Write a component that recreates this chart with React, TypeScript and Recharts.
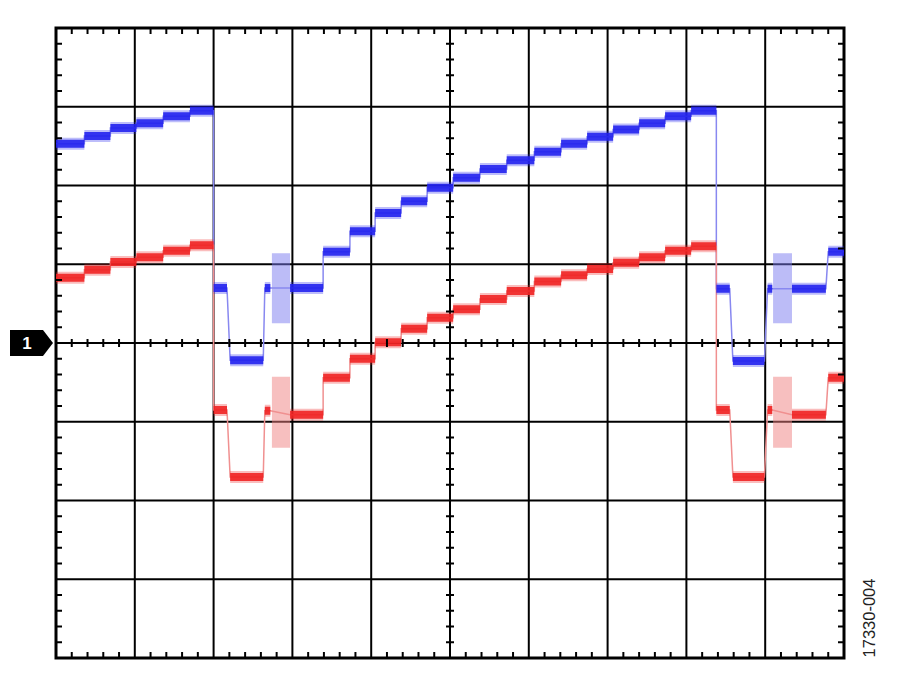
import {
  ComposedChart,
  Line,
  Scatter,
  XAxis,
  YAxis,
  CartesianGrid,
  ReferenceArea,
  ReferenceDot,
} from "recharts";

// scope screen: x in divisions (0..10), y in divisions (-4..4), 0 = channel 1 ground
// each step: [xStart, xEnd, level]
const blueSteps: [number, number, number][] = [
  [0.0, 0.36, 2.53],
  [0.36, 0.69, 2.63],
  [0.69, 1.02, 2.73],
  [1.02, 1.36, 2.79],
  [1.36, 1.7, 2.88],
  [1.7, 2.0, 2.95],
  [2.0, 2.17, 0.7],
  [2.21, 2.63, -0.22],
  [2.65, 2.72, 0.7],
  [2.97, 3.39, 0.7],
  [3.39, 3.73, 1.16],
  [3.73, 4.05, 1.42],
  [4.05, 4.38, 1.65],
  [4.38, 4.71, 1.8],
  [4.71, 5.04, 1.97],
  [5.04, 5.38, 2.1],
  [5.38, 5.72, 2.21],
  [5.72, 6.07, 2.32],
  [6.07, 6.41, 2.43],
  [6.41, 6.74, 2.53],
  [6.74, 7.07, 2.62],
  [7.07, 7.4, 2.71],
  [7.4, 7.73, 2.79],
  [7.73, 8.06, 2.88],
  [8.06, 8.38, 2.95],
  [8.38, 8.55, 0.69],
  [8.59, 8.99, -0.23],
  [9.03, 9.09, 0.69],
  [9.34, 9.77, 0.69],
  [9.8, 10.0, 1.16],
];

const redSteps: [number, number, number][] = [
  [0.0, 0.36, 0.83],
  [0.36, 0.69, 0.93],
  [0.69, 1.02, 1.03],
  [1.02, 1.36, 1.09],
  [1.36, 1.7, 1.17],
  [1.7, 2.0, 1.24],
  [2.0, 2.17, -0.85],
  [2.21, 2.63, -1.7],
  [2.65, 2.72, -0.86],
  [2.97, 3.39, -0.91],
  [3.39, 3.73, -0.44],
  [3.73, 4.05, -0.2],
  [4.05, 4.38, 0.01],
  [4.38, 4.71, 0.18],
  [4.71, 5.04, 0.32],
  [5.04, 5.38, 0.43],
  [5.38, 5.72, 0.56],
  [5.72, 6.07, 0.66],
  [6.07, 6.41, 0.78],
  [6.41, 6.74, 0.86],
  [6.74, 7.07, 0.94],
  [7.07, 7.4, 1.02],
  [7.4, 7.73, 1.09],
  [7.73, 8.06, 1.17],
  [8.06, 8.38, 1.23],
  [8.38, 8.55, -0.85],
  [8.59, 8.99, -1.7],
  [9.03, 9.09, -0.85],
  [9.34, 9.77, -0.91],
  [9.8, 10.0, -0.44],
];

// noisy bursts: [xStart, xEnd, yLow, yHigh]
const blueBursts: [number, number, number, number][] = [
  [2.74, 2.97, 0.25, 1.14],
  [9.1, 9.34, 0.25, 1.14],
];
const redBursts: [number, number, number, number][] = [
  [2.74, 2.97, -1.33, -0.43],
  [9.1, 9.34, -1.33, -0.43],
];

const xMajorTicks = [0, 1, 2, 3, 4, 5, 6, 7, 8, 9, 10];
const yMajorTicks = [-4, -3, -2, -1, 0, 1, 2, 3, 4];
const xMinorTicks = [
  0.2, 0.4, 0.6, 0.8, 1.2, 1.4, 1.6, 1.8, 2.2, 2.4, 2.6, 2.8, 3.2, 3.4, 3.6, 3.8,
  4.2, 4.4, 4.6, 4.8, 5.2, 5.4, 5.6, 5.8, 6.2, 6.4, 6.6, 6.8, 7.2, 7.4, 7.6, 7.8,
  8.2, 8.4, 8.6, 8.8, 9.2, 9.4, 9.6, 9.8,
];
const yMinorTicks = [
  -3.8, -3.6, -3.4, -3.2, -2.8, -2.6, -2.4, -2.2, -1.8, -1.6, -1.4, -1.2, -0.8, -0.6,
  -0.4, -0.2, 0.2, 0.4, 0.6, 0.8, 1.2, 1.4, 1.6, 1.8, 2.2, 2.4, 2.6, 2.8, 3.2, 3.4,
  3.6, 3.8,
];

const BLUE = "#2424ee";
const RED = "#f02424";

// thick horizontal pieces, broken apart with nulls
const toSegments = (steps: [number, number, number][]) =>
  steps.flatMap(([x0, x1, y]) => [
    { x: x0, y },
    { x: x1, y },
    { x: x1, y: null },
  ]);
// the faint connecting trace
const toPath = (steps: [number, number, number][]) =>
  steps.flatMap(([x0, x1, y]) => [
    { x: x0, y },
    { x: x1, y },
  ]);

// minor tick marks on the centre cross and along the four edges
const centerHTicks = xMinorTicks.map((x) => ({ x, y: 0 }));
const centerVTicks = yMinorTicks.map((y) => ({ x: 5, y }));
const topTicks = xMinorTicks.map((x) => ({ x, y: 4 }));
const bottomTicks = xMinorTicks.map((x) => ({ x, y: -4 }));
const leftTicks = yMinorTicks.map((y) => ({ x: 0, y }));
const rightTicks = yMinorTicks.map((y) => ({ x: 10, y }));

const mark = (x1: number, y1: number, x2: number, y2: number) => (
  <line x1={x1} y1={y1} x2={x2} y2={y2} stroke="#000" strokeWidth={2} />
);
const VTick = (p: any) => mark(p.cx, p.cy - 4, p.cx, p.cy + 4);
const HTick = (p: any) => mark(p.cx - 4, p.cy, p.cx + 4, p.cy);
const DownTick = (p: any) => mark(p.cx, p.cy, p.cx, p.cy + 6);
const UpTick = (p: any) => mark(p.cx, p.cy, p.cx, p.cy - 6);
const RightTick = (p: any) => mark(p.cx, p.cy, p.cx + 6, p.cy);
const LeftTick = (p: any) => mark(p.cx, p.cy, p.cx - 6, p.cy);
const NoLabel = () => <g />;

const GroundMarker = (p: any) => {
  const { cx, cy } = p;
  return (
    <g>
      <path
        d={`M${cx - 46},${cy - 13} L${cx - 13},${cy - 13} L${cx - 3},${cy} L${cx - 13},${cy + 13} L${cx - 46},${cy + 13} Z`}
        fill="#000"
      />
      <text
        x={cx - 29}
        y={cy + 6}
        textAnchor="middle"
        fill="#fff"
        fontSize={17}
        fontWeight="bold"
        fontFamily="Liberation Sans, Arial, sans-serif"
      >
        1
      </text>
    </g>
  );
};

export default function App() {
  const tickSets: [any[], any][] = [
    [centerHTicks, VTick],
    [centerVTicks, HTick],
    [topTicks, DownTick],
    [bottomTicks, UpTick],
    [leftTicks, RightTick],
    [rightTicks, LeftTick],
  ];

  return (
    <div style={{ position: "absolute", top: 0, left: 0, width: 900, height: 680, background: "#fff" }}>
      <ComposedChart width={900} height={680} margin={{ top: 28, right: 56, bottom: 22, left: 56 }}>
        <XAxis
          xAxisId="g"
          dataKey="x"
          type="number"
          domain={[0, 10]}
          ticks={xMajorTicks}
          interval={0}
          allowDataOverflow
          height={0}
          axisLine={false}
          tickLine={false}
          tick={NoLabel}
        />
        <YAxis
          yAxisId="g"
          dataKey="y"
          type="number"
          domain={[-4, 4]}
          ticks={yMajorTicks}
          interval={0}
          allowDataOverflow
          width={0}
          axisLine={false}
          tickLine={false}
          tick={NoLabel}
        />

        {blueBursts.map(([x1, x2, y1, y2], i) => (
          <ReferenceArea
            key={`bb${i}`}
            xAxisId="g"
            yAxisId="g"
            x1={x1}
            x2={x2}
            y1={y1}
            y2={y2}
            fill="#7a7af0"
            fillOpacity={0.5}
            stroke="none"
          />
        ))}
        {redBursts.map(([x1, x2, y1, y2], i) => (
          <ReferenceArea
            key={`rb${i}`}
            xAxisId="g"
            yAxisId="g"
            x1={x1}
            x2={x2}
            y1={y1}
            y2={y2}
            fill="#f08080"
            fillOpacity={0.5}
            stroke="none"
          />
        ))}

        <Line xAxisId="g" yAxisId="g" data={toPath(blueSteps)} dataKey="y" stroke="#8888f0" strokeWidth={1.5} dot={false} isAnimationActive={false} />
        <Line xAxisId="g" yAxisId="g" data={toPath(redSteps)} dataKey="y" stroke="#f09090" strokeWidth={1.5} dot={false} isAnimationActive={false} />

        <Line xAxisId="g" yAxisId="g" data={toSegments(blueSteps)} dataKey="y" stroke={BLUE} strokeOpacity={0.3} strokeWidth={12} dot={false} connectNulls={false} isAnimationActive={false} />
        <Line xAxisId="g" yAxisId="g" data={toSegments(blueSteps)} dataKey="y" stroke={BLUE} strokeOpacity={0.9} strokeWidth={8} dot={false} connectNulls={false} isAnimationActive={false} />
        <Line xAxisId="g" yAxisId="g" data={toSegments(redSteps)} dataKey="y" stroke={RED} strokeOpacity={0.3} strokeWidth={12} dot={false} connectNulls={false} isAnimationActive={false} />
        <Line xAxisId="g" yAxisId="g" data={toSegments(redSteps)} dataKey="y" stroke={RED} strokeOpacity={0.9} strokeWidth={8} dot={false} connectNulls={false} isAnimationActive={false} />

        <CartesianGrid xAxisId="g" yAxisId="g" stroke="#000" strokeWidth={2} />
        <ReferenceArea
          xAxisId="g"
          yAxisId="g"
          x1={0}
          x2={10}
          y1={-4}
          y2={4}
          fill="none"
          stroke="#000"
          strokeWidth={3}
        />

        {tickSets.map(([data, shape], i) => (
          <Scatter
            key={`t${i}`}
            xAxisId="g"
            yAxisId="g"
            data={data}
            dataKey="y"
            shape={shape}
            isAnimationActive={false}
          />
        ))}

        <ReferenceDot xAxisId="g" yAxisId="g" x={0} y={0} ifOverflow="visible" shape={GroundMarker} />
      </ComposedChart>
      <div
        style={{
          position: "absolute",
          left: 869,
          top: 618,
          transform: "translate(-50%, -50%) rotate(-90deg)",
          fontFamily: "Liberation Sans, Arial, sans-serif",
          fontSize: 16.5,
          color: "#222",
          whiteSpace: "nowrap",
        }}
      >
        17330-004
      </div>
    </div>
  );
}
